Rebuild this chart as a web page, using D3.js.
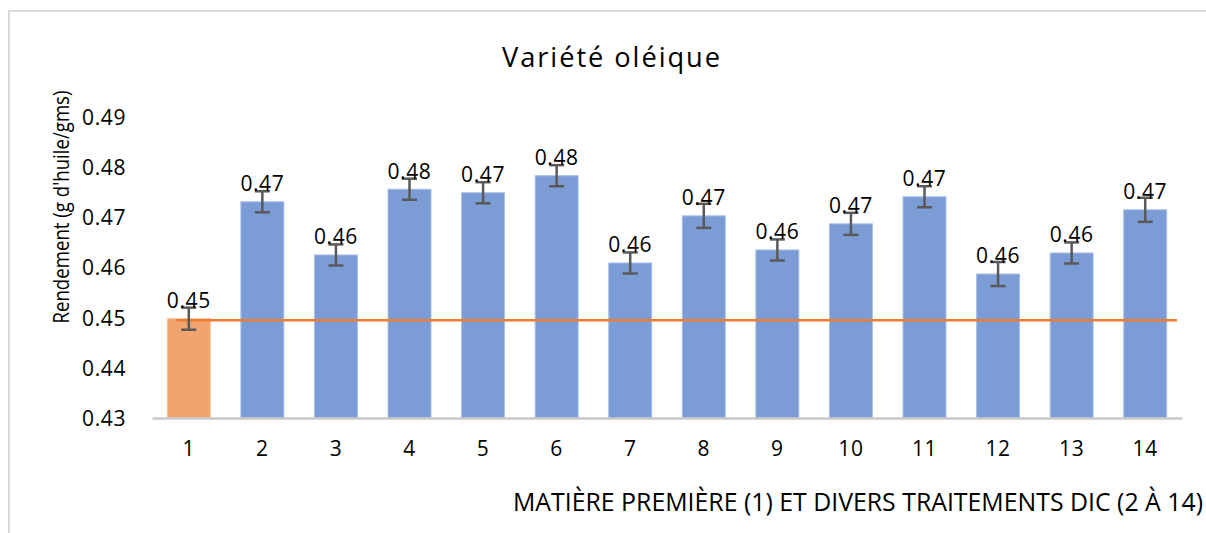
<!DOCTYPE html>
<html>
<head>
<meta charset="utf-8">
<script src="https://cdn.jsdelivr.net/npm/d3@7"></script>
<style>
  html, body { margin: 0; padding: 0; background: #fff; }
  svg { display: block; }
  text { font-family: "Open Sans", "Noto Sans", sans-serif; fill: #000; }
</style>
</head>
<body>
<svg id="chart" width="1206" height="533"></svg>
<script>
// Treatments: raw material (1) and DIC treatments (2 to 14)
const categories = ["1","2","3","4","5","6","7","8","9","10","11","12","13","14"];
// Oil yield (g oil / g dry matter)
const yields = [0.4498, 0.4731, 0.4625, 0.4756, 0.4749, 0.4783, 0.4609, 0.4703, 0.4635,
                0.4687, 0.4741, 0.4587, 0.4629, 0.4715];
// Standard deviations for the error bars
const errors = [0.0022, 0.0021, 0.0021, 0.0021, 0.0021, 0.0021, 0.0021, 0.0024, 0.0021,
                0.0022, 0.0021, 0.0024, 0.0021, 0.0024];
// Reference level: raw material yield
const referenceYield = [0.4495];
const yTicks = [0.43, 0.44, 0.45, 0.46, 0.47, 0.48, 0.49];

const svg = d3.select("#chart");
const W = 1206, H = 533;

// outer frame (top and left edges visible)
svg.append("path")
  .attr("d", `M9,${H} L9,11 L${W},11`)
  .attr("fill", "none").attr("stroke", "#d9d9d9").attr("stroke-width", 2);

const plot = { left: 152, right: 1182, top: 117, bottom: 418 };

const x = d3.scaleBand().domain(categories)
  .range([plot.left, plot.right])
  .paddingInner(0.416).paddingOuter(0.208);

const y = d3.scaleLinear().domain([0.43, 0.49]).range([plot.bottom, plot.top]);

// title
svg.append("text")
  .attr("x", 612).attr("y", 67)
  .attr("text-anchor", "middle")
  .attr("font-size", 28)
  .attr("textLength", 220).attr("lengthAdjust", "spacingAndGlyphs")
  .attr("letter-spacing", 2)
  .text("Variété oléique");

// y axis labels (no line, no ticks)
const yAxis = d3.axisLeft(y).tickValues(yTicks).tickFormat(d3.format(".2f")).tickSize(0).tickPadding(0);
const gy = svg.append("g").attr("transform", `translate(${plot.left - 26},0)`).call(yAxis);
gy.select(".domain").remove();
gy.selectAll("text")
  .attr("font-family", "'Open Sans', sans-serif")
  .attr("font-size", 21).attr("letter-spacing", 0.6).attr("fill", "#000")
  .attr("dy", "0.35em");

// y axis title
svg.append("text")
  .attr("transform", `translate(69,${207}) rotate(-90)`)
  .attr("text-anchor", "middle")
  .attr("font-size", 21)
  .attr("textLength", 233).attr("lengthAdjust", "spacingAndGlyphs")
  .text("Rendement (g d'huile/gms)");

// bars
const barData = categories.map((c, i) => ({ cat: c, v: yields[i], e: errors[i] }));
svg.append("g").selectAll("rect").data(barData).join("rect")
  .attr("x", d => x(d.cat))
  .attr("width", x.bandwidth())
  .attr("y", d => y(d.v))
  .attr("height", d => y(0.43) - y(d.v))
  .attr("fill", (d, i) => i === 0 ? "#f2a46e" : "#7c9cd6")
  .attr("stroke", (d, i) => i === 0 ? "#f6c19c" : "#a9bfe6")
  .attr("stroke-width", 1);

// x axis
const xAxis = d3.axisBottom(x).tickSize(0).tickPadding(0);
const gx = svg.append("g").attr("transform", `translate(0,${plot.bottom})`).call(xAxis);
gx.select(".domain").attr("stroke", "#c8c8c8").attr("stroke-width", 2.5);
gx.selectAll("text")
  .attr("font-family", "'Open Sans', sans-serif")
  .attr("font-size", 21).attr("letter-spacing", 0.6).attr("fill", "#000")
  .attr("y", 31).attr("dy", "0.35em");

// reference line
const refG = svg.append("g");
refG.selectAll("line").data(referenceYield).join("line")
  .attr("x1", x(categories[0]) + x.bandwidth() * 0.22)
  .attr("x2", plot.right - 5)
  .attr("y1", d => y(d)).attr("y2", d => y(d))
  .attr("stroke", "#ed7d31").attr("stroke-width", 2.5);

// error bars
const capW = 15;
const eg = svg.append("g").attr("stroke", "#595959").attr("stroke-width", 2.5);
barData.forEach(d => {
  const cx = x(d.cat) + x.bandwidth() / 2;
  eg.append("line").attr("x1", cx).attr("x2", cx).attr("y1", y(d.v + d.e)).attr("y2", y(d.v - d.e));
  eg.append("line").attr("x1", cx - capW / 2).attr("x2", cx + capW / 2).attr("y1", y(d.v + d.e)).attr("y2", y(d.v + d.e));
  eg.append("line").attr("x1", cx - capW / 2).attr("x2", cx + capW / 2).attr("y1", y(d.v - d.e)).attr("y2", y(d.v - d.e));
});

// value labels
svg.append("g").selectAll("text").data(barData).join("text")
  .attr("x", d => x(d.cat) + x.bandwidth() / 2)
  .attr("y", d => y(d.v) - 18)
  .attr("dy", "0.35em")
  .attr("text-anchor", "middle")
  .attr("font-size", 21).attr("letter-spacing", 0.6)
  .text(d => d3.format(".2f")(d.v));

// x axis title
svg.append("text")
  .attr("x", 1203).attr("y", 511)
  .attr("text-anchor", "end")
  .attr("font-family", "'Liberation Sans Narrow', 'Open Sans', sans-serif")
  .attr("font-size", 25)
  .attr("textLength", 690).attr("lengthAdjust", "spacingAndGlyphs")
  .text("MATIÈRE PREMIÈRE (1) ET DIVERS TRAITEMENTS DIC (2 À 14)");
</script>
</body>
</html>
